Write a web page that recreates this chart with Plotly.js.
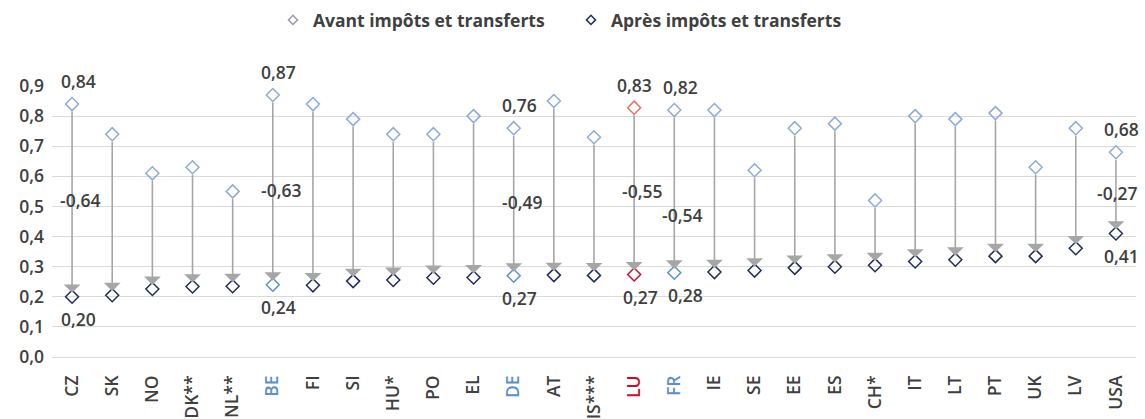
<!DOCTYPE html>
<html>
<head>
<meta charset="utf-8">
<script src="https://cdn.plot.ly/plotly-3.0.1.min.js"></script>
<style>
  html, body { margin: 0; padding: 0; background: #ffffff; }
  #chart { width: 1145px; height: 419px; }
</style>
</head>
<body>
<div id="chart"></div>
<script>
// ---- Data ----
const countries = ["CZ","SK","NO","DK**","NL**","BE","FI","SI","HU*","PO","EL","DE","AT","IS***","LU","FR","IE","SE","EE","ES","CH*","IT","LT","PT","UK","LV","USA"];
const avant = [0.84,0.74,0.61,0.63,0.55,0.87,0.84,0.79,0.74,0.74,0.80,0.76,0.85,0.73,0.828,0.82,0.82,0.62,0.76,0.775,0.52,0.80,0.79,0.81,0.63,0.76,0.68];
const apres = [0.20,0.205,0.226,0.234,0.235,0.24,0.238,0.252,0.256,0.263,0.264,0.27,0.272,0.271,0.274,0.28,0.282,0.287,0.296,0.30,0.305,0.317,0.323,0.335,0.335,0.361,0.41];
const labelled = ["CZ","BE","DE","LU","FR","USA"];
const seriesNames = ["Avant impôts et transferts", "Après impôts et transferts"];

// ---- Styles ----
const FONT = '"Open Sans", "Noto Sans", sans-serif';
const TXT = '#404040';
const C_AVANT = '#8eaadb';
const C_APRES = '#1f2d5c';
const C_BLUE = '#5b8fd0';
const C_RED = '#c8102e';
const C_LU_AVANT = '#e8735f';
const hl = { "BE": C_BLUE, "DE": C_BLUE, "FR": C_BLUE, "LU": C_RED };
const LBL = 17.5;

const fmt = v => v.toFixed(2).replace('.', ',');

const avantColors = countries.map(c => c === 'LU' ? C_LU_AVANT : C_AVANT);
const apresColors = countries.map(c => hl[c] || C_APRES);

const tickText = countries.map(c => hl[c] ? `<span style="color:${hl[c]}">${c}</span>` : c);

const traces = [
  {
    x: countries, y: avant, type: 'scatter', mode: 'markers', showlegend: false,
    marker: { symbol: 'diamond-open', size: 10, color: avantColors, line: { width: 1.5, color: avantColors } },
    cliponaxis: false, hoverinfo: 'skip'
  },
  {
    x: countries, y: apres, type: 'scatter', mode: 'markers', showlegend: false,
    marker: { symbol: 'diamond-open', size: 10, color: apresColors, line: { width: 1.5, color: apresColors } },
    cliponaxis: false, hoverinfo: 'skip'
  },
  // legend entries
  {
    x: [null], y: [null], type: 'scatter', mode: 'markers', name: seriesNames[0],
    marker: { symbol: 'diamond-open', size: 7, color: '#9a9ab4', line: { width: 1.5, color: '#9a9ab4' } }
  },
  {
    x: [null], y: [null], type: 'scatter', mode: 'markers', name: seriesNames[1],
    marker: { symbol: 'diamond-open', size: 7, color: C_APRES, line: { width: 1.5, color: C_APRES } }
  }
];

const annotations = [];
countries.forEach((c, i) => {
  // arrow from avant down to apres
  annotations.push({
    x: c, y: apres[i], xref: 'x', yref: 'y',
    ax: c, ay: avant[i], axref: 'x', ayref: 'y',
    showarrow: true, arrowhead: 1, arrowsize: 1.75, arrowwidth: 1.6,
    arrowcolor: '#a6a6a6', standoff: 4, startstandoff: 6, text: ''
  });
});
labelled.forEach(c => {
  const i = countries.indexOf(c);
  annotations.push({
    x: c, y: avant[i], xref: 'x', yref: 'y', text: fmt(avant[i]), showarrow: false,
    xshift: c === 'LU' ? 0 : 6, yshift: 23, font: { family: FONT, size: LBL, color: TXT, weight: 600 }
  });
  annotations.push({
    x: c, y: apres[i], xref: 'x', yref: 'y', text: fmt(apres[i]), showarrow: false,
    xshift: c === 'FR' ? 11 : 6, yshift: -22, font: { family: FONT, size: LBL, color: TXT, weight: 600 }
  });
  annotations.push({
    x: c, y: (avant[i] + apres[i]) / 2, xref: 'x', yref: 'y', text: fmt(apres[i] - avant[i]), showarrow: false,
    xshift: c === 'USA' ? 1 : 8, yshift: c === 'FR' ? -24 : 0, font: { family: FONT, size: LBL, color: TXT, weight: 600 }
  });
});

const layout = {
  width: 1145, height: 419,
  paper_bgcolor: '#ffffff', plot_bgcolor: '#ffffff',
  separators: ', ',
  margin: { l: 52, r: 9, t: 86, b: 62 },
  font: { family: FONT, color: TXT, size: 17 },
  showlegend: true,
  legend: {
    orientation: 'h', xref: 'container', yref: 'container',
    x: 0.2384, xanchor: 'left', y: 1 - 20 / 419, yanchor: 'middle',
    font: { family: FONT, size: 17.5, color: TXT, weight: 700 },
    itemwidth: 30, entrywidth: 253, entrywidthmode: 'pixels', tracegroupgap: 0, bgcolor: 'rgba(0,0,0,0)'
  },
  xaxis: {
    type: 'category', tickmode: 'array', tickvals: countries, ticktext: tickText,
    tickangle: -90, showgrid: false, zeroline: false, showline: false, ticks: '',
    ticklabelstandoff: 14,
    tickfont: { family: FONT, size: 17.5, color: TXT, weight: 600 },
    range: [-0.5, countries.length - 0.5]
  },
  yaxis: {
    range: [0, 0.9], dtick: 0.1, tickformat: '.1f', showgrid: true, gridcolor: '#d9d9d9', gridwidth: 1,
    zeroline: true, zerolinecolor: '#d9d9d9', zerolinewidth: 1, showline: false, ticks: '',
    ticklabelstandoff: 7,
    tickfont: { family: FONT, size: 17.5, color: TXT, weight: 600 }
  },
  annotations: annotations
};

Plotly.newPlot('chart', traces, layout, { staticPlot: true, displayModeBar: false });
</script>
</body>
</html>
